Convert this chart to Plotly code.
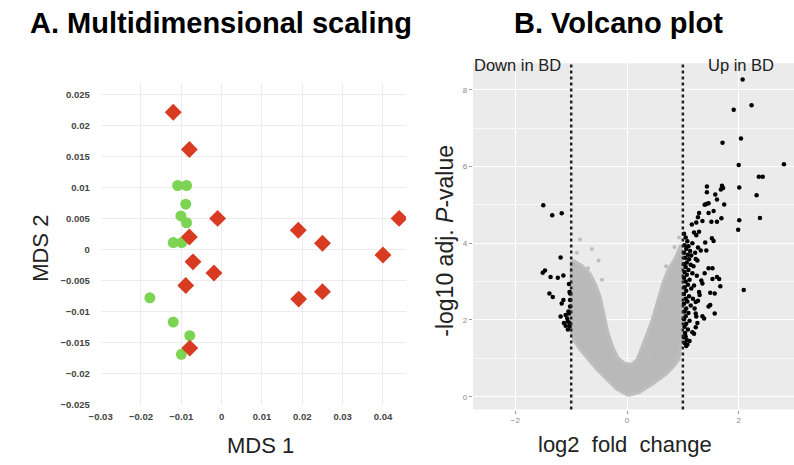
import plotly.graph_objects as go

# ---------------- Panel A: MDS ----------------
mds_bd_x = [-0.012, -0.008, -0.001, -0.008, 0.019, 0.025, 0.044, 0.040,
            -0.0071, -0.0019, -0.0089, 0.0191, 0.025, -0.0079]
mds_bd_y = [0.0221, 0.0161, 0.0050, 0.0020, 0.0031, 0.0010, 0.0050, -0.0009,
            -0.0020, -0.0038, -0.0058, -0.0080, -0.0068, -0.0159]
mds_ctrl_x = [-0.0109, -0.0087, -0.0089, -0.0101, -0.0087, -0.0120, -0.0099,
              -0.0178, -0.0120, -0.0079, -0.0100]
mds_ctrl_y = [0.0103, 0.0103, 0.0073, 0.0054, 0.0043, 0.0011, 0.0011,
              -0.0078, -0.0117, -0.0139, -0.0169]
mds_xticks = [-0.03, -0.02, -0.01, 0, 0.01, 0.02, 0.03, 0.04]
mds_xlabels = ["\u22120.03", "\u22120.02", "\u22120.01", "0", "0.01", "0.02", "0.03", "0.04"]
mds_yticks = [-0.025, -0.02, -0.015, -0.01, -0.005, 0, 0.005, 0.01, 0.015, 0.02, 0.025]
mds_ylabels = ["\u22120.025", "\u22120.02", "\u22120.015", "\u22120.01", "\u22120.005", "0",
               "0.005", "0.01", "0.015", "0.02", "0.025"]

# ---------------- Panel B: Volcano ----------------
# outline of the dense grey cloud of non-significant genes
cloud_x = [0.02, 0.22, 0.46, 0.70, 0.84, 0.93, 0.96, 0.99, 0.99, 0.96, 0.87, 0.73,
           0.64, 0.55, 0.45, 0.34, 0.25, 0.18, 0.08, -0.04, -0.16, -0.25, -0.34,
           -0.42, -0.48, -0.57, -0.66, -0.81, -0.96, -1.00, -1.00, -0.96, -0.84,
           -0.69, -0.54, -0.37, -0.19, 0.02]
cloud_y = [0.03, 0.11, 0.33, 0.59, 0.80, 0.97, 1.31, 1.60, 3.70, 3.95, 3.63, 3.29,
           2.95, 2.52, 2.00, 1.57, 1.23, 0.97, 0.84, 0.87, 1.01, 1.27, 1.66,
           2.17, 2.60, 2.95, 3.20, 3.42, 3.55, 3.50, 1.70, 1.49, 1.23,
           0.97, 0.71, 0.46, 0.20, 0.03]
ns_x = [-0.84, -0.63, -0.51, 0.93, 0.85, 0.70, -0.70, -0.45, 0.40, 0.88, -0.90, 0.30]
ns_y = [4.10, 3.85, 3.55, 4.15, 3.90, 3.40, 3.35, 3.05, 1.10, 1.00, 3.75, 1.35]

sig_x = [2.07, 2.23, 1.91, 1.71, 2.04, 2.00, 2.81, 2.36, 2.43, 1.43, 1.70, 1.72, 1.68,
         2.01, 1.43, 1.58, 2.32, 1.61, 1.42, 1.46, 1.39, 1.74,
         1.29, 1.46, 1.55, 2.38, 1.27, 1.35, 1.51, 1.61, 1.69, 1.16, 1.24, 2.01, 1.99,
         1.20, 1.24, 1.29, 1.52, 1.55, 1.40, 1.27, 1.32, 1.42, 1.23, 1.26, 1.46, 1.53,
         1.39, 1.53, 1.61, 1.65, 1.33, 1.35, 1.67, 2.09, 1.29, 1.30, 1.49, 1.57, 1.23,
         1.27, 1.46, 1.49, 1.57, 1.23, 1.24, 1.35, 1.38, 1.26, 1.23, 1.17, 1.20, 1.05, 1.08,
         1.02, 1.05, 1.08, 1.03, 1.10, 1.06, 1.13, 1.02, 1.09, 1.15, 1.04, 1.11, 1.07,
         1.02, 1.14, 1.05, 1.10, 1.03, 1.17, 1.07, 1.02, 1.12, 1.05, 1.09, 1.03, 1.15,
         1.06, 1.02, 1.11, 1.05, 1.08, 1.02, 1.14, 1.06, 1.03, 1.10, 1.05, 1.02, 1.12,
         1.06, 1.03, 1.09, 1.04, 1.02, 1.07, 1.03, 1.06, 1.12, 1.18, 1.20, 1.19, 1.22,
         1.17, 1.25, 1.21,
         -1.50, -1.34, -1.17, -1.19, -1.51, -1.47, -1.37, -1.24, -1.14, -1.39, -1.33,
         -1.17, -1.14, -1.19, -1.10, -1.07, -1.04, -1.06, -1.03, -1.13, -1.02, -1.04,
         -1.03, -1.02, -1.05, -1.03, -1.06, -1.10, -1.02]
sig_y = [8.27, 7.60, 7.48, 6.62, 6.73, 6.04, 6.06, 5.73, 5.73, 5.48, 5.50, 5.44, 5.40,
         5.45, 5.33, 5.27, 5.25, 5.14, 5.02, 5.04, 5.00, 5.01,
         4.79, 4.79, 4.84, 4.66, 4.68, 4.58, 4.56, 4.56, 4.65, 4.49, 4.54, 4.60, 4.35,
         4.28, 4.21, 4.30, 4.13, 4.06, 4.02, 3.89, 3.81, 3.81, 3.59, 3.55, 3.35, 3.35,
         3.22, 3.07, 3.12, 3.07, 3.03, 2.95, 2.88, 2.78, 2.73, 2.65, 2.71, 2.69, 2.47,
         2.50, 2.35, 2.39, 2.17, 2.17, 2.09, 2.10, 2.04, 1.92, 1.81, 1.68, 1.64, 1.57, 1.36,
         4.25, 4.15, 4.05, 3.95, 3.92, 3.85, 3.80, 3.75, 3.70, 3.68, 3.62, 3.58, 3.50,
         3.45, 3.44, 3.38, 3.30, 3.25, 3.22, 3.18, 3.10, 3.05, 3.00, 2.92, 2.85, 2.82,
         2.76, 2.68, 2.62, 2.55, 2.48, 2.42, 2.38, 2.30, 2.22, 2.18, 2.10, 2.02, 1.98,
         1.90, 1.82, 1.75, 1.66, 1.55, 1.48, 1.40, 1.32, 1.45, 2.55, 2.90, 3.40, 3.75,
         4.00, 3.15, 2.30,
         4.99, 4.73, 4.78, 3.63, 3.23, 3.29, 3.12, 3.10, 3.16, 2.69, 2.60,
         2.43, 2.52, 2.09, 2.13, 2.04, 2.17, 1.96, 1.92, 1.92, 2.69, 2.94,
         2.73, 2.52, 2.22, 1.83, 1.75, 1.85, 2.35]
fc_cutoffs = [-1, 1]

fig = go.Figure()

fig.add_trace(go.Scatter(x=mds_ctrl_x, y=mds_ctrl_y, mode="markers", xaxis="x", yaxis="y",
                         marker=dict(symbol="circle", size=11, color="#7dd452"),
                         showlegend=False))
fig.add_trace(go.Scatter(x=mds_bd_x, y=mds_bd_y, mode="markers", xaxis="x", yaxis="y",
                         marker=dict(symbol="diamond", size=13, color="#d93a22"),
                         showlegend=False))

fig.add_trace(go.Scatter(x=cloud_x, y=cloud_y, mode="lines", fill="toself",
                         xaxis="x2", yaxis="y2", fillcolor="#b9b9b9",
                         line=dict(color="#bebebe", width=3),
                         showlegend=False))
fig.add_trace(go.Scatter(x=ns_x, y=ns_y, mode="markers", xaxis="x2", yaxis="y2",
                         marker=dict(size=4, color="#bdbdbd"), showlegend=False))
fig.add_trace(go.Scatter(x=sig_x, y=sig_y, mode="markers", xaxis="x2", yaxis="y2",
                         marker=dict(size=4.5, color="black"), showlegend=False))

W, H = 794, 465


def dx(px0, px1):
    return [max(0, px0 / W), min(1, px1 / W)]


def dy(py_top, py_bot):
    return [max(0, 1 - py_bot / H), min(1, 1 - py_top / H)]


grid_l = "#ececec"
fig.update_layout(
    width=W, height=H,
    margin=dict(l=0, r=0, t=0, b=0),
    paper_bgcolor="white",
    plot_bgcolor="white",
    font=dict(family="Liberation Sans, Arial", color="#333"),
    xaxis=dict(domain=dx(90, 400), range=[-0.03, 0.0457], tickvals=mds_xticks,
               ticktext=mds_xlabels, showgrid=True, gridcolor=grid_l, gridwidth=1,
               zeroline=False, showline=False, ticks="outside", ticklen=3,
               tickcolor="rgba(0,0,0,0)",
               tickfont=dict(size=9.5, color="#444", weight="bold"), anchor="y"),
    yaxis=dict(domain=dy(84, 409), range=[-0.025, 0.0268], tickvals=mds_yticks,
               ticktext=mds_ylabels, showgrid=True, gridcolor=grid_l, gridwidth=1,
               zeroline=False, showline=False, ticks="outside", ticklen=8,
               tickcolor="rgba(0,0,0,0)",
               tickfont=dict(size=9.5, color="#444", weight="bold"), anchor="x"),
    xaxis2=dict(domain=dx(468, 794), range=[-2.76, 2.99], tickvals=[-2, 0, 2],
                ticktext=["\u22122", "0", "2"],
                showgrid=True, gridcolor="white", gridwidth=1.2,
                minor=dict(dtick=1, tick0=1, showgrid=True, gridcolor="#f7f7f7", gridwidth=0.6),
                zeroline=False, showline=False, ticks="outside", ticklen=3,
                tickcolor="#999", tickfont=dict(size=8, color="#888"), anchor="y2"),
    yaxis2=dict(domain=dy(64, 414), range=[-0.335, 8.69], tickvals=[0, 2, 4, 6, 8],
                showgrid=True, gridcolor="white", gridwidth=1.2,
                minor=dict(dtick=1, tick0=1, showgrid=True, gridcolor="#f7f7f7", gridwidth=0.6),
                zeroline=False, showline=False, ticks="outside", ticklen=3,
                tickcolor="#999", tickfont=dict(size=8, color="#888"), anchor="x2"),
)

fig.add_shape(type="rect", xref="x2 domain", yref="y2 domain", x0=0, x1=1, y0=0, y1=1,
              fillcolor="#ebebeb", line=dict(width=0), layer="below")
for c in fc_cutoffs:
    fig.add_shape(type="line", xref="x2", yref="y2 domain", x0=c, x1=c, y0=0, y1=1,
                  line=dict(color="#222", width=2.5, dash="dot"))

ann = [
    dict(text="<b>A. Multidimensional scaling</b>", x=212, y=23, size=29),
    dict(text="<b>B. Volcano plot</b>", x=616, y=23, size=29),
    dict(text="MDS 1", x=252, y=450, size=22),
    dict(text="MDS 2", x=29, y=251, size=22, angle=-90),
    dict(text="Down in BD", x=513, y=66, size=16.5),
    dict(text="Up in BD", x=740, y=66, size=16.5),
    dict(text="log2\u00a0 fold\u00a0 change", x=622, y=449, size=22),
    dict(text="-log10 adj. <i>P</i>-value", x=440, y=243, size=23, angle=-90),
]
for a in ann:
    fig.add_annotation(text=a["text"], x=a["x"] / W, y=1 - a["y"] / H,
                       xref="paper", yref="paper", xanchor="center", yanchor="middle",
                       showarrow=False, textangle=a.get("angle", 0), borderpad=0,
                       font=dict(size=a["size"], color="black" if a["size"] > 25 else "#222",
                                 family="Liberation Sans, Arial"))

fig.write_html("out.html", config={"displayModeBar": False},
               post_script="document.body.style.margin='0';document.body.style.overflow='hidden';")
